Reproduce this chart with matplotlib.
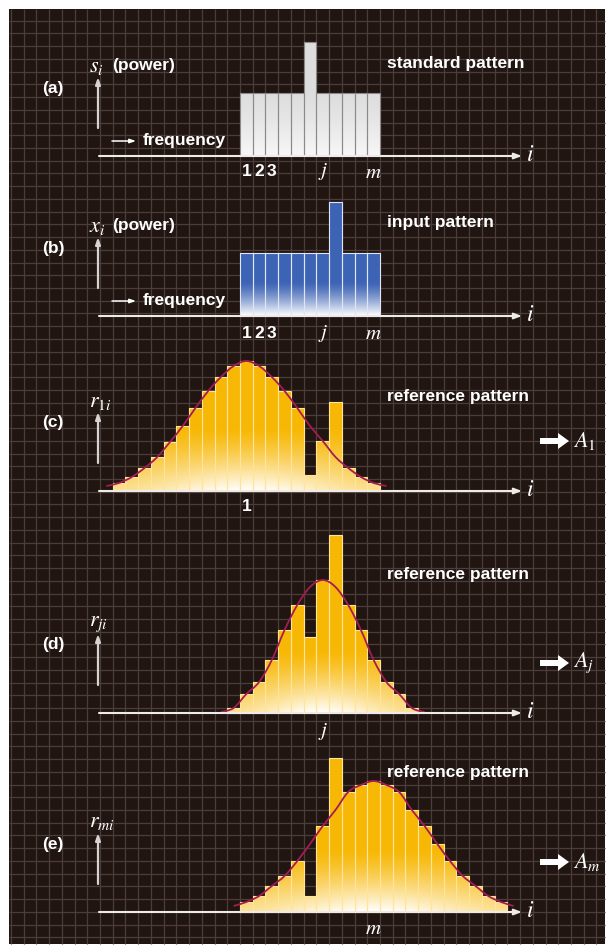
import numpy as np
import matplotlib
matplotlib.use("Agg")
from matplotlib import pyplot as plt
from matplotlib.path import Path
from matplotlib.patches import PathPatch, Rectangle, FancyArrow

plt.rcParams['font.family'] = ['Liberation Sans', 'DejaVu Sans']
plt.rcParams['mathtext.fontset'] = 'stix'

# frequency bins: 0 is "1", 6 is "j", 10 is "m"
std_bins = list(range(0, 11))
std_power = [63, 63, 63, 63, 63, 114, 63, 63, 63, 63, 63]
inp_bins = list(range(0, 11))
inp_power = [63, 63, 63, 63, 63, 63, 63, 114, 63, 63, 63]

# reference pattern r_1i (centred on bin 1)
ref1_bins = list(range(-10, 11))
ref1_power = [8, 14, 23, 34, 49, 65, 83, 100, 114, 125, 130, 125, 114, 100, 83, 16, 50, 89, 23, 14, 8]
ref1_curve = [8, 14, 23, 34, 49, 65, 83, 100, 114, 125, 130, 125, 114, 100, 83, 65, 50, 34, 23, 14, 8]
ref1_tail = [5, 5]

# reference pattern r_ji (centred on bin j)
refj_bins = list(range(-1, 14))
refj_power = [5, 19, 31, 53, 83, 108, 76, 133, 178, 108, 83, 53, 31, 19, 5]
refj_curve = [5, 19, 31, 53, 83, 108, 126, 133, 126, 108, 83, 53, 31, 19, 5]
refj_tail = [1, 1]

# reference pattern r_mi (centred on bin m)
refm_bins = list(range(0, 21))
refm_power = [10, 16, 26, 36, 51, 16, 86, 154, 120, 127, 131, 127, 120, 102, 86, 68, 51, 36, 26, 16, 10]
refm_curve = [10, 16, 26, 36, 51, 68, 86, 102, 120, 127, 131, 127, 120, 102, 86, 68, 51, 36, 26, 16, 10]
refm_tail = [6, 6]

tick_bins = [0, 1, 2, 6, 10]
tick_text = ['1', '2', '3', '$j$', '$m$']

W, H = 611, 949
U = 12.73      # pixels per bin
X0 = 240       # pixel of left edge of bin "1"
BG = '#211512'
GRID = '#4b3d3a'
YELLOW = (0.97, 0.72, 0.02)
BLUE = (0.24, 0.39, 0.71)
GRAY = (0.87, 0.87, 0.87)
CURVE = '#a51c52'

fig = plt.figure(figsize=(W / 100, H / 100), dpi=100)
fig.patch.set_facecolor('white')

# background with grid
back = fig.add_axes([0, 0, 1, 1], zorder=0)
back.set_xlim(0, W)
back.set_ylim(H, 0)
back.axis('off')
back.add_patch(Rectangle((9, 9), 596, 935, facecolor=BG, edgecolor='none'))
gx = np.arange(X0 - 18 * U, 605, U)
gx = gx[gx > 10]
back.vlines(gx, 9, 944, color=GRID, lw=0.9)
gy = np.arange(20.7, 944, U)
back.hlines(gy, 9, 605, color=GRID, lw=0.9)

# overlay for labels and arrows (pixel coordinates)
top = fig.add_axes([0, 0, 1, 1], zorder=5)
top.set_xlim(0, W)
top.set_ylim(H, 0)
top.axis('off')
top.patch.set_alpha(0)


def panel(base):
    ax = fig.add_axes([0, 1 - (base + 40) / H, 1, 240 / H], zorder=2)
    ax.set_xlim(-X0 / U, (W - X0) / U)
    ax.set_ylim(-40, 200)
    ax.axis('off')
    ax.patch.set_alpha(0)
    return ax


def shaded_bars(ax, bins, power, color, edge, fade, low=(1, 1, 1), center=None, spread=None):
    bars = ax.bar(bins, power, width=1.0, align='edge', color='none',
                  edgecolor=edge, linewidth=0.8, zorder=3)
    rects = [b.get_path().transformed(b.get_patch_transform()) for b in bars]
    clip = PathPatch(Path.make_compound_path(*rects), transform=ax.transData,
                     facecolor='none', edgecolor='none')
    ax.add_patch(clip)
    x0, x1 = bins[0], bins[-1] + 1
    hmax = max(power)
    X, Y = np.meshgrid(np.linspace(x0, x1, 300), np.linspace(0, hmax, 300))
    w = np.clip(1 - Y / fade, 0, 1) ** 1.3
    if center is not None:
        w = w * (0.5 + 0.5 * np.exp(-0.5 * ((X - center) / spread) ** 2))
    rgb = np.array(color)[None, None, :] * (1 - w[..., None]) + np.array(low)[None, None, :] * w[..., None]
    im = ax.imshow(rgb, extent=[x0, x1, 0, hmax], origin='lower', aspect='auto',
                   interpolation='bilinear', zorder=2)
    im.set_clip_path(clip)
    ax.set_xlim(-X0 / U, (W - X0) / U)
    ax.set_ylim(-40, 200)


def smooth(ax, bins, curve, tail):
    xs = [bins[0] - 0.5] + [b + 0.5 for b in bins] + [bins[-1] + 1.5]
    ys = [tail[0]] + list(curve) + [tail[1]]
    pts = np.column_stack([xs, ys]).astype(float)
    verts = [pts[0]]
    codes = [Path.MOVETO]
    n = len(pts)
    for k in range(n - 1):
        p0 = pts[max(k - 1, 0)]
        p1 = pts[k]
        p2 = pts[k + 1]
        p3 = pts[min(k + 2, n - 1)]
        verts += [p1 + (p2 - p0) / 6, p2 - (p3 - p1) / 6, p2]
        codes += [Path.CURVE4] * 3
    ax.add_patch(PathPatch(Path(verts, codes), facecolor='none', edgecolor=CURVE,
                           lw=1.3, zorder=4))


def axis_line(ax):
    ax.annotate('', xy=((522 - X0) / U, 0), xytext=((99 - X0) / U, 0),
                arrowprops=dict(arrowstyle='-|>,head_length=0.45,head_width=0.17',
                                color='#eeeae7', lw=1.5, shrinkA=0, shrinkB=0),
                annotation_clip=False, zorder=6)


def frame(base, tag, ylab, title, title_y, power=False, freq=False, A=None):
    sans = dict(color='white', fontsize=12.5, fontweight='bold', va='center')
    top.text(53, base - 68, tag, ha='center', **sans)
    top.text(89, base - 90, ylab, ha='left', va='center', color='white', fontsize=16)
    if power:
        top.text(112, base - 91, '(power)', ha='left', **sans)
    top.annotate('', xy=(98, base - 79), xytext=(98, base - 28),
                 arrowprops=dict(arrowstyle='-|>,head_length=0.4,head_width=0.14',
                                 color='#d8d3d1', lw=1.6, shrinkA=0, shrinkB=0))
    if freq:
        top.annotate('', xy=(136, base - 15), xytext=(112, base - 15),
                     arrowprops=dict(arrowstyle='-|>,head_length=0.35,head_width=0.12',
                                     color='white', lw=1.1, shrinkA=0, shrinkB=0))
        top.text(143, base - 16, 'frequency', ha='left', **sans)
    top.text(526, base - 1, '$i$', ha='left', va='center', color='white', fontsize=17)
    top.text(387, title_y, title, ha='left', **sans)
    if A is not None:
        top.add_patch(FancyArrow(540, base - 50, 29, 0, width=6, head_width=16,
                                 head_length=11, length_includes_head=True,
                                 color='white', lw=0))
        top.text(573, base - 50, A, ha='left', va='center', color='white', fontsize=16)


# (a) standard pattern
ax = panel(156)
shaded_bars(ax, std_bins, std_power, GRAY, '#8a8a8a', 63, low=(0.97, 0.97, 0.97))
axis_line(ax)
for b, t in zip(tick_bins, tick_text):
    ax.text(b + 0.5, -16, t, ha='center', va='center', color='white',
            fontsize=15 if t.startswith('$') else 12.5, fontweight='bold')
frame(156, '(a)', '$s_i$', 'standard pattern', 63, power=True, freq=True)

# (b) input pattern
ax = panel(316)
shaded_bars(ax, inp_bins, inp_power, BLUE, '#dfe5f3', 34)
axis_line(ax)
for b, t in zip(tick_bins, tick_text):
    ax.text(b + 0.5, -17, t, ha='center', va='center', color='white',
            fontsize=15 if t.startswith('$') else 12.5, fontweight='bold')
frame(316, '(b)', '$x_i$', 'input pattern', 222, power=True, freq=True)

# (c) reference pattern 1
ax = panel(491)
shaded_bars(ax, ref1_bins, ref1_power, YELLOW, '#ffe49a', 62, center=0.5, spread=5)
smooth(ax, ref1_bins, ref1_curve, ref1_tail)
axis_line(ax)
ax.text(0.5, -15, '1', ha='center', va='center', color='white', fontsize=12.5, fontweight='bold')
frame(491, '(c)', '$r_{1i}$', 'reference pattern', 397, A='$A_1$')

# (d) reference pattern j
ax = panel(713)
shaded_bars(ax, refj_bins, refj_power, YELLOW, '#ffe49a', 62, center=6.5, spread=3.5)
smooth(ax, refj_bins, refj_curve, refj_tail)
axis_line(ax)
ax.text(6.5, -19, '$j$', ha='center', va='center', color='white', fontsize=15)
frame(713, '(d)', '$r_{ji}$', 'reference pattern', 575, A='$A_j$')

# (e) reference pattern m
ax = panel(912)
shaded_bars(ax, refm_bins, refm_power, YELLOW, '#ffe49a', 62, center=10.5, spread=5.5)
smooth(ax, refm_bins, refm_curve, refm_tail)
axis_line(ax)
ax.text(10.5, -16, '$m$', ha='center', va='center', color='white', fontsize=15)
frame(912, '(e)', '$r_{mi}$', 'reference pattern', 773, A='$A_m$')

fig.savefig('out.png', dpi=100, facecolor=fig.get_facecolor())
